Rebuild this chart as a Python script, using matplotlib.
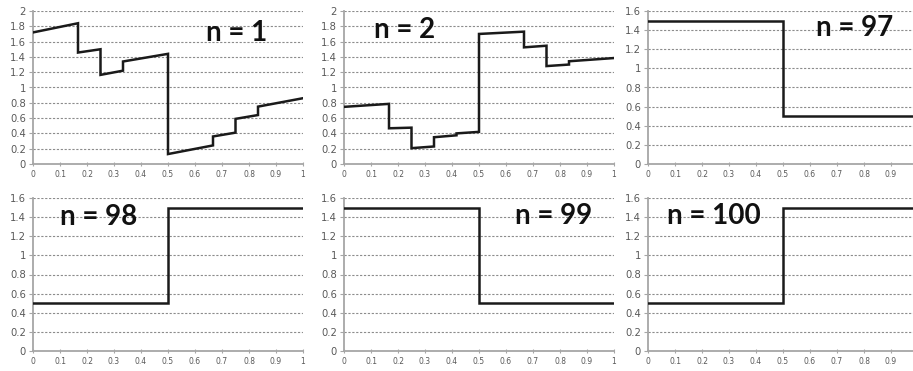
import matplotlib
matplotlib.use("Agg")
import matplotlib.pyplot as plt

# ---- data ----
x_n1 = [0, 1/6, 1/6, 0.25, 0.25, 1/3, 1/3, 0.5, 0.5, 2/3, 2/3, 0.75, 0.75, 5/6, 5/6, 1.0]
y_n1 = [1.72, 1.84, 1.457, 1.50, 1.165, 1.22, 1.34, 1.44, 0.13, 0.243, 0.36, 0.41, 0.59, 0.64, 0.75, 0.86]

x_n2 = [0, 1/6, 1/6, 0.25, 0.25, 1/3, 1/3, 5/12, 5/12, 0.5, 0.5, 2/3, 2/3, 0.75, 0.75, 5/6, 5/6, 1.0]
y_n2 = [0.747, 0.786, 0.467, 0.475, 0.207, 0.229, 0.35, 0.375, 0.40, 0.42, 1.70, 1.73, 1.525, 1.546, 1.28, 1.30, 1.343, 1.385]

x_step = [0, 0.5, 0.5, 1.0]
y_n97 = [1.5, 1.5, 0.5, 0.5]
y_n98 = [0.5, 0.5, 1.5, 1.5]
y_n99 = [1.5, 1.5, 0.5, 0.5]
y_n100 = [0.5, 0.5, 1.5, 1.5]

labels = ["n = 1", "n = 2", "n = 97", "n = 98", "n = 99", "n = 100"]
label_pos = [(0.755, 1.71), (0.226, 1.75), (0.767, 1.42), (0.244, 1.40), (0.778, 1.41), (0.244, 1.41)]
ymaxes = [2.0, 2.0, 1.6, 1.6, 1.6, 1.6]
xticks = [0, 0.1, 0.2, 0.3, 0.4, 0.5, 0.6, 0.7, 0.8, 0.9, 1]
xtick_labels = ["0", "0.1", "0.2", "0.3", "0.4", "0.5", "0.6", "0.7", "0.8", "0.9", "1"]

series = [(x_n1, y_n1), (x_n2, y_n2), (x_step, y_n97), (x_step, y_n98), (x_step, y_n99), (x_step, y_n100)]

W, H = 913, 371
fig = plt.figure(figsize=(W / 100, H / 100), dpi=100)
fig.patch.set_facecolor("white")

lefts_px = [33, 344, 648]
width_px = 270
rows = [(11, 164), (198, 351)]

axis_col = "#a6a6a6"
grid_col = "#8c8c8c"
tick_col = "#595959"

for i, (xs, ys) in enumerate(series):
    r, c = divmod(i, 3)
    top, bot = rows[r]
    l = lefts_px[c]
    ax = fig.add_axes([l / W, 1 - bot / H, width_px / W, (bot - top) / H])
    ymax = ymaxes[i]
    ax.plot(xs, ys, color="#1a1a1a", lw=1.8, solid_joinstyle="miter", zorder=3)
    ax.set_xlim(0, 1)
    ax.set_ylim(0, ymax)
    yt = [round(k * 0.2, 1) for k in range(int(round(ymax / 0.2)) + 1)]
    ax.set_yticks(yt)
    ax.set_yticklabels(["0" if v == 0 else ("1" if v == 1 else ("2" if v == 2 else f"{v:.1f}")) for v in yt])
    for v in yt[1:]:
        ax.axhline(v, color=grid_col, lw=0.8, ls=(0, (2, 1.5)), zorder=1)
    ax.set_xticks(xticks)
    if c == 2:
        # the right column's axis runs past the picture edge; its "1" label is not visible
        ax.set_xticklabels(xtick_labels[:-1] + [""])
    else:
        ax.set_xticklabels(xtick_labels)
    for s in ["top", "right"]:
        ax.spines[s].set_visible(False)
    for s in ["left", "bottom"]:
        ax.spines[s].set_color(axis_col)
        ax.spines[s].set_linewidth(1.3)
    ax.tick_params(axis="y", labelsize=7.2, colors=tick_col, length=3, width=0.8, color=axis_col, pad=2)
    ax.tick_params(axis="x", labelsize=5.5, colors=tick_col, length=3, width=0.8, color=axis_col, pad=3, direction="inout")
    tx, ty = label_pos[i]
    ax.text(tx, ty, labels[i], fontsize=20, fontweight="bold", family=["Lato", "DejaVu Sans"],
            ha="center", va="center", color="#111111", zorder=4)

fig.savefig("out.png", dpi=100, facecolor="white")
